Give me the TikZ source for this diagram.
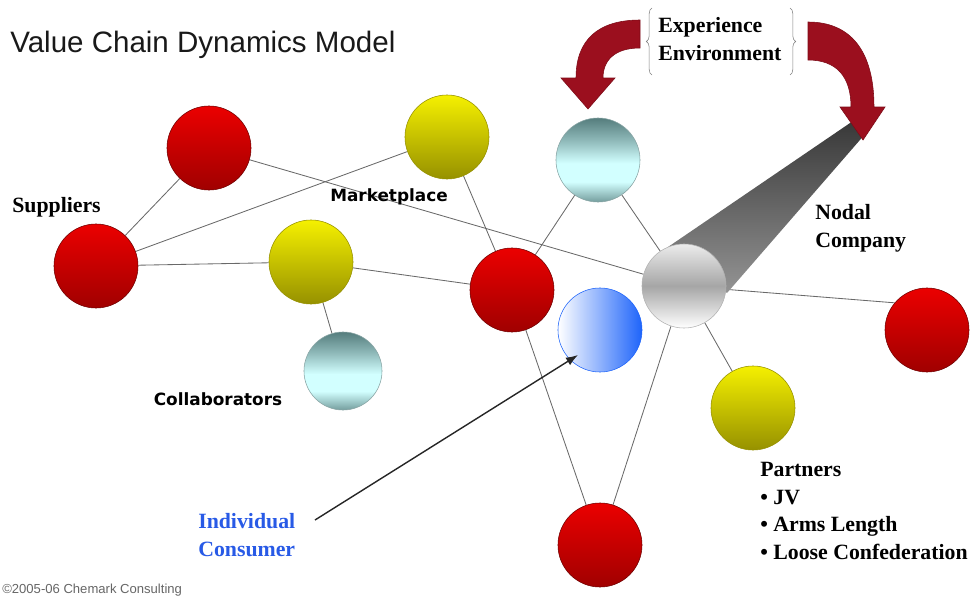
\documentclass[tikz,border=0pt]{standalone}
\usepackage{fontspec}
\setmainfont{Liberation Serif}
\setsansfont{Liberation Sans}
\newfontfamily\verdfont{DejaVu Sans}
\usetikzlibrary{arrows.meta}
\usetikzlibrary{decorations.pathreplacing}
\usetikzlibrary{backgrounds}

\definecolor{ballred}{RGB}{235,0,0}
\definecolor{darkred}{RGB}{160,0,0}
\definecolor{ballyel}{RGB}{245,240,0}
\definecolor{darkyel}{RGB}{150,145,0}
\definecolor{ballteal}{RGB}{85,125,125}
\definecolor{ballcyan}{RGB}{210,255,255}
\definecolor{ballblue}{RGB}{30,100,250}
\definecolor{arrowred}{RGB}{155,15,30}
\definecolor{linegray}{RGB}{105,105,105}
\definecolor{consblue}{RGB}{40,90,230}

\pgfdeclareverticalshading{cyanshade}{100bp}{color(0bp)=(ballteal!75!ballcyan); color(25bp)=(ballteal!75!ballcyan);
    color(37bp)=(ballcyan); color(48bp)=(ballcyan); color(62bp)=(ballteal!55!ballcyan); color(75bp)=(ballteal); color(100bp)=(ballteal)}

\tikzset{
    ball/.style={circle, minimum size=2.1cm, inner sep=0pt, thin},
    redball/.style={ball, top color=ballred, bottom color=darkred, draw=darkred!70!black},
    yelball/.style={ball, top color=ballyel, bottom color=darkyel, draw=darkyel},
    cyanball/.style={ball, shading=cyanshade, draw=ballteal!70},
    blueball/.style={ball, left color=white, right color=ballblue, draw=ballblue},
    silverball/.style={ball, top color=gray!15, bottom color=white, middle color=gray!70, draw=gray!60},
    link/.style={draw=linegray, line width=0.6pt},
    bigarrow/.style={fill=arrowred, draw=arrowred!80!black, thin},
    lbl/.style={font=\fontsize{15.5}{19.7}\selectfont\bfseries, inner sep=0pt, align=left},
    sanslbl/.style={font=\verdfont\fontsize{12}{14}\selectfont\bfseries, inner sep=0pt}
}

\begin{document}
\begin{tikzpicture}[x=0.025cm, y=-0.025cm]
        \useasboundingbox (0,0) rectangle (976,599);

        % the balls
        \node[redball] (redtl) at (209,148) {};
        \node[yelball] (yeltop) at (447,137) {};
        \node[cyanball] (cyantop) at (598,160) {};
        \node[redball] (supp) at (96,266) {};
        \node[yelball] (yelmid) at (311,262) {};
        \node[cyanball, minimum size=1.95cm] (collab) at (343,371) {};
        \node[redball] (redmid) at (512,290) {};
        \node[blueball] (blue) at (600,330) {};
        \node[redball] (redright) at (927,330) {};
        \node[yelball] (yelpart) at (753,408) {};
        \node[redball] (redbot) at (600,545) {};

        % cone and nodal company
        \shade[top color=black!78, bottom color=black!42] (668,247) -- (853,121) -- (866,133) -- (727,293) -- cycle;
        \node[silverball] (nodal) at (684,286) {};

        % links
        \begin{scope}[on background layer]
        \draw[link] (redtl) -- (supp);
        \draw[link] (redtl) -- (nodal);
        \draw[link] (supp) -- (yeltop);
        \draw[link] (supp) -- (yelmid);
        \draw[link] (yelmid) -- (redmid);
        \draw[link] (yelmid) -- (collab);
        \draw[link] (yeltop) -- (redmid);
        \draw[link] (cyantop) -- (redmid);
        \draw[link] (cyantop) -- (nodal);
        \draw[link] (redmid) -- (redbot);
        \draw[link] (nodal) -- (redbot);
        \draw[link] (nodal) -- (yelpart);
        \draw[link] (nodal) -- (redright.140);
        \end{scope}

        % red arrows
        \fill[bigarrow] (640,20) .. controls (598,20) and (576,40) .. (576,78) -- (561,78) -- (588,109)
            -- (615,78) -- (603,78) .. controls (603,60) and (615,48) .. (640,48) -- cycle;
        \fill[bigarrow] (808,22) .. controls (850,22) and (874,50) .. (874,107) -- (885,107) -- (863,140)
            -- (840,107) -- (851,107) .. controls (851,76) and (836,60) .. (808,60) -- cycle;

        % braces
        \draw[gray, decorate, decoration={brace, amplitude=4pt}] (652,75) -- (652,8);
        \draw[gray, decorate, decoration={brace, amplitude=4pt}] (790,8) -- (790,75);

        % texts
        \node[anchor=west, font=\sffamily\fontsize{21}{25}\selectfont, text=black!90, inner sep=0pt] (title) at (10,45) {Value Chain Dynamics Model};
        \node[lbl, anchor=west] (exp) at (658,39) {Experience\\Environment};
        \node[lbl, anchor=west] (supplbl) at (12,207) {Suppliers};
        \node[sanslbl] (market) at (389,197) {Marketplace};
        \node[sanslbl] (collablbl) at (218,399) {Collaborators};
        \node[lbl, anchor=west] (nodallbl) at (815,228) {Nodal\\Company};
        \node[lbl, anchor=west] (partlbl) at (760,511) {Partners\\\textbullet\ JV\\\textbullet\ Arms Length\\\textbullet\ Loose Confederation};
        \node[lbl, anchor=west, text=consblue] (indiv) at (198,535) {Individual\\Consumer};
        \node[anchor=west, font=\sffamily\fontsize{9.3}{10}\selectfont, text=black!60, inner sep=0pt] (copy) at (2,590) {©2005-06 Chemark Consulting};

        % consumer arrow
        \coordinate (tail) at (315,520);
        \coordinate (tip) at (578,355);
        \draw[-{Latex[length=3mm, width=2.2mm]}, line width=1pt, black!85] (tail) -- (tip);
    \end{tikzpicture}
\end{document}
